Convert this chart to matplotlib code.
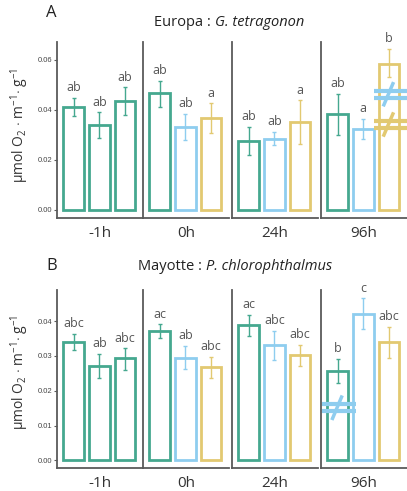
import matplotlib
matplotlib.use('Agg')
import matplotlib.pyplot as plt

plt.rcParams['font.family'] = ['Open Sans', 'DejaVu Sans']
plt.rcParams['mathtext.fontset'] = 'custom'
plt.rcParams['mathtext.rm'] = 'Open Sans'
plt.rcParams['mathtext.it'] = 'Open Sans:italic'

# ---- data ----
times = ['-1h', '0h', '24h', '96h']
green, blue, yellow = '#45A88F', '#8ECDEF', '#E2C971'
bar_colors = [[green, green, green], [green, blue, yellow],
              [green, blue, yellow], [green, blue, yellow]]

# Europa : G. tetragonon
a_mean = [[0.0412, 0.0339, 0.0436], [0.0466, 0.0333, 0.0368],
          [0.0278, 0.0286, 0.0352], [0.0382, 0.0325, 0.0585]]
a_lo = [[0.0375, 0.0290, 0.0380], [0.0410, 0.0280, 0.0310],
        [0.0222, 0.0262, 0.0266], [0.0300, 0.0284, 0.0530]]
a_hi = [[0.0448, 0.0390, 0.0490], [0.0516, 0.0385, 0.0426],
        [0.0332, 0.0314, 0.0438], [0.0465, 0.0364, 0.0645]]
a_let = [['ab', 'ab', 'ab'], ['ab', 'ab', 'a'],
         ['ab', 'ab', 'a'], ['ab', 'a', 'b']]

# Mayotte : P. chlorophthalmus
b_mean = [[0.0340, 0.0271, 0.0293], [0.0371, 0.0295, 0.0267],
          [0.0388, 0.0332, 0.0301], [0.0256, 0.0419, 0.0339]]
b_lo = [[0.0316, 0.0236, 0.0260], [0.0350, 0.0262, 0.0237],
        [0.0357, 0.0288, 0.0270], [0.0222, 0.0376, 0.0294]]
b_hi = [[0.0363, 0.0306, 0.0322], [0.0391, 0.0329, 0.0297],
        [0.0418, 0.0372, 0.0332], [0.0291, 0.0465, 0.0383]]
b_let = [['abc', 'ab', 'abc'], ['ac', 'ab', 'abc'],
         ['ac', 'abc', 'abc'], ['b', 'c', 'abc']]

# "≠" marks: (bar index in 96h panel, y centre, colour)
a_neq = [(3, 0.0463, blue), (3, 0.0342, yellow)]
b_neq = [(1, 0.0151, blue)]

W, H = 407, 491
fig = plt.figure(figsize=(W / 100, H / 100), dpi=100)

spine_col = '#5a5a5a'
lefts = [57, 143, 232, 321]
pw = 86


def draw_row(top_px, bot_px, ylim, yticks, ytl, means, lo, hi, lets, neq,
             letter, title_pre, title_it, split_x, title_y, lab_y, ylab_y):
    axes = []
    for k in range(4):
        ax = fig.add_axes([lefts[k] / W, 1 - bot_px / H, pw / W,
                           (bot_px - top_px) / H])
        ax.set_xlim(0.35, 3.7)
        ax.set_ylim(*ylim)
        for s in ['top', 'right']:
            ax.spines[s].set_visible(False)
        for s in ['left', 'bottom']:
            ax.spines[s].set_color(spine_col)
            ax.spines[s].set_linewidth(1.3)
        ax.set_xticks([])
        if k == 0:
            ax.set_yticks(yticks)
            ax.set_yticklabels(ytl, fontsize=5.5, color='#444444',
                               family='Liberation Sans')
            ax.tick_params(axis='y', length=2, width=0.8, color=spine_col,
                           pad=1.5)
        else:
            ax.set_yticks([])
        xs = [1, 2, 3]
        for i in range(3):
            c = bar_colors[k][i]
            ax.bar(xs[i], means[k][i], width=0.8, facecolor='white',
                   edgecolor=c, linewidth=2)
            ax.errorbar(xs[i], means[k][i],
                        yerr=[[means[k][i] - lo[k][i]], [hi[k][i] - means[k][i]]],
                        color=c, lw=1, capsize=1.5, capthick=1)
            ax.text(xs[i], hi[k][i] + (ylim[1] - ylim[0]) * 0.02, lets[k][i],
                    ha='center', va='bottom', fontsize=9, color='#555555')
        ax.text(0.5, -0.045, times[k], transform=ax.transAxes, ha='center',
                va='top', fontsize=11, color='#333333')
        axes.append(ax)
    # not-equal marks in the 96h panel
    ax = axes[3]
    dy = (ylim[1] - ylim[0]) * 0.02
    for idx, yc, c in neq:
        for s in (-1, 1):
            ax.plot([idx - 0.6, idx + 0.7], [yc + s * dy, yc + s * dy], color=c,
                    lw=3, clip_on=False, solid_capstyle='butt')
        ax.plot([idx - 0.2, idx + 0.15], [yc - 3 * dy, yc + 3 * dy], color=c,
                lw=2.5, clip_on=False)
    fig.text(46 / W, 1 - lab_y / H, letter, fontsize=12, color='#222222',
             va='center')
    fig.text(split_x / W, 1 - title_y / H, title_pre, ha='right',
             va='center', fontsize=10.5, color='#222222')
    fig.text(split_x / W, 1 - title_y / H, title_it, ha='left',
             va='center', fontsize=10.5, color='#222222', style='italic')
    fig.text(20 / W, 1 - ylab_y / H,
             r'µmol O$_2$ $\cdot$ m$^{-1}$$\cdot$ g$^{-1}$', rotation=90,
             ha='center', va='center', fontsize=10, color='#333333')
    return axes


draw_row(42, 218, (-0.0032, 0.0672), [0, 0.02, 0.04, 0.06],
         ['0.00', '0.02', '0.04', '0.06'], a_mean, a_lo, a_hi, a_let, a_neq,
         'A', 'Europa : ', 'G. tetragonon', 215, 23, 13, 125)
draw_row(290, 468, (-0.0022, 0.0489), [0, 0.01, 0.02, 0.03, 0.04],
         ['0.00', '0.01', '0.02', '0.03', '0.04'], b_mean, b_lo, b_hi, b_let,
         b_neq, 'B', 'Mayotte : ', 'P. chlorophthalmus', 206, 266, 266, 372)

plt.savefig('out.png', dpi=100)
plt.close()
